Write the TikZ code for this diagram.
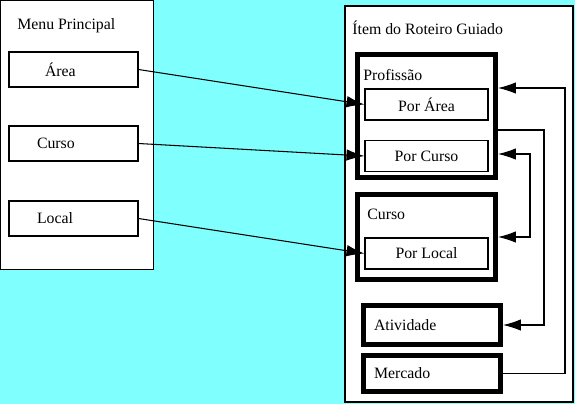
\documentclass[tikz,border=0pt]{standalone}
\usepackage{fontspec}
\setmainfont{Liberation Serif}
\usetikzlibrary{arrows.meta}
\usetikzlibrary{positioning}
\definecolor{bgcyan}{RGB}{128,255,255}
\tikzset{
panel/.style={ % Sets the properties for the two big panels
draw,
fill=white,
line width=0.6pt,
inner sep=0pt},
item/.style={ % Thin boxes with left aligned text
draw,
fill=white,
line width=0.6pt,
minimum height=0.70cm,
text width=1.46cm,
align=left,
inner xsep=0.56cm,
inner ysep=0pt},
subitem/.style={ % Thin boxes inside the thick groups
draw,
fill=white,
line width=0.6pt,
minimum width=2.46cm,
minimum height=0.62cm,
inner sep=0pt},
group/.style={ % Thick boxes
draw,
line width=2.8pt,
inner sep=0pt},
title/.style={anchor=base west, inner sep=0pt},
>={Latex[length=3.6mm,width=2.3mm]}, % Big filled arrow heads
every edge/.style={ % Sets the properties for each connector
draw,
->,
line width=0.6pt}}

\begin{document}
\begin{tikzpicture}[font=\fontsize{9}{11}\selectfont]
	\fill[bgcyan] (0,0) rectangle (11.5,-8.08);
	\useasboundingbox (0,0) rectangle (11.5,-8.08);
	% left panel
	\node[panel, minimum width=3.06cm, minimum height=5.38cm] (menu) at (1.54,-2.70) {};
	\node[title] (menutitle) at (0.34,-0.58) {Menu Principal};
	\node[item] (area) at (1.47,-1.39) {\hspace{0.16cm}Área};
	\node[item] (curso) at (1.47,-2.87) {Curso};
	\node[item] (local) at (1.47,-4.37) {Local};
	% right panel
	\node[panel, minimum width=4.56cm, minimum height=7.92cm] (roteiro) at (9.18,-4.08) {};
	\node[title] (roteirotitle) at (7.04,-0.68) {Ítem do Roteiro Guiado};
	\node[group, minimum width=2.76cm, minimum height=2.46cm] (profissao) at (8.53,-2.32) {};
	\node[title] (profissaotitle) at (7.26,-1.60) {Profissão};
	\node[subitem] (porarea) at (8.53,-2.09) {Por Área};
	\node[subitem] (porcurso) at (8.53,-3.12) {Por Curso};
	\node[group, minimum width=2.76cm, minimum height=1.70cm] (cursob) at (8.53,-4.74) {};
	\node[title] (cursotitle) at (7.34,-4.38) {Curso};
	\node[subitem] (porlocal) at (8.53,-5.07) {Por Local};
	\node[group, minimum height=0.78cm, text width=2.32cm, align=left, inner xsep=0.21cm] (atividade) at (8.64,-6.50) {Atividade};
	\node[group, minimum height=0.72cm, text width=2.32cm, align=left, inner xsep=0.21cm] (mercado) at (8.64,-7.47) {Mercado};
	% connectors
	\coordinate (r1) at (11.30,-1.76);
	\coordinate (r2) at (10.88,-2.60);
	\coordinate (r3) at (10.60,-3.08);
	\draw (area.east) edge (porarea.west);
	\draw (curso.east) edge (porcurso.west);
	\draw (local.east) edge (porlocal.west);
	\draw[->, line width=0.6pt] (mercado.east) -| (r1) -- (r1 -| profissao.east);
	\draw[->, line width=0.6pt] (r2 -| profissao.east) -- (r2) |- (atividade.east);
	\draw[<->, line width=0.6pt] (r3 -| profissao.east) -- (r3) |- (cursob.east);
\end{tikzpicture}
\end{document}
